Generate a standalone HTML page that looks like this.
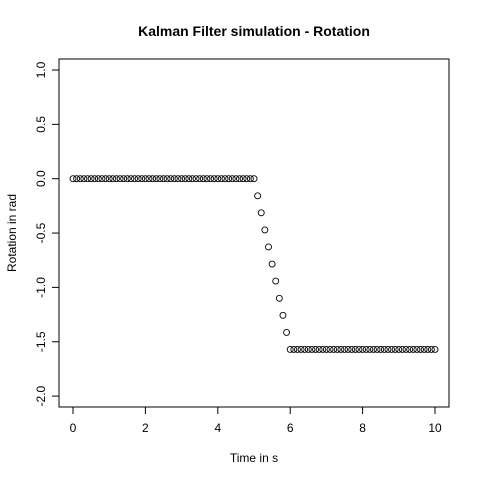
<!DOCTYPE html>
<html><head><meta charset="utf-8"><style>
html,body{margin:0;padding:0;background:#fff;}
svg{display:block;font-family:"Liberation Sans",Arial,sans-serif;}
</style></head><body>
<svg id="chart" width="480" height="480" viewBox="0 0 480 480">
<rect x="0" y="0" width="480" height="480" fill="#fff"/>
<text x="254" y="36" text-anchor="middle" font-size="14" font-weight="bold">Kalman Filter simulation - Rotation</text>
<rect x="59" y="59" width="390" height="348" fill="none" stroke="#000" stroke-width="1"/>
<text x="254" y="462" text-anchor="middle" font-size="12">Time in s</text>
<text x="0" y="0" transform="translate(16,233) rotate(-90)" text-anchor="middle" font-size="12">Rotation in rad</text>
<g id="axes"></g>
<g id="points"></g>
</svg>
<script>
const xTicks = [0, 2, 4, 6, 8, 10];
const yTicks = [1.0, 0.5, 0.0, -0.5, -1.0, -1.5, -2.0];
const yTickLabels = ["1.0", "0.5", "0.0", "-0.5", "-1.0", "-1.5", "-2.0"];
const times = [0,0.1,0.2,0.3,0.4,0.5,0.6,0.7,0.8,0.9,1,1.1,1.2,1.3,1.4,1.5,1.6,1.7,1.8,1.9,2,2.1,2.2,2.3,2.4,2.5,2.6,2.7,2.8,2.9,3,3.1,3.2,3.3,3.4,3.5,3.6,3.7,3.8,3.9,4,4.1,4.2,4.3,4.4,4.5,4.6,4.7,4.8,4.9,5,5.1,5.2,5.3,5.4,5.5,5.6,5.7,5.8,5.9,6,6.1,6.2,6.3,6.4,6.5,6.6,6.7,6.8,6.9,7,7.1,7.2,7.3,7.4,7.5,7.6,7.7,7.8,7.9,8,8.1,8.2,8.3,8.4,8.5,8.6,8.7,8.8,8.9,9,9.1,9.2,9.3,9.4,9.5,9.6,9.7,9.8,9.9,10];
const rotation = [0,0,0,0,0,0,0,0,0,0,0,0,0,0,0,0,0,0,0,0,0,0,0,0,0,0,0,0,0,0,0,0,0,0,0,0,0,0,0,0,0,0,0,0,0,0,0,0,0,0,0,
-0.157,-0.314,-0.471,-0.628,-0.785,-0.942,-1.1,-1.257,-1.414,-1.5708,
-1.5708,-1.5708,-1.5708,-1.5708,-1.5708,-1.5708,-1.5708,-1.5708,-1.5708,-1.5708,
-1.5708,-1.5708,-1.5708,-1.5708,-1.5708,-1.5708,-1.5708,-1.5708,-1.5708,-1.5708,
-1.5708,-1.5708,-1.5708,-1.5708,-1.5708,-1.5708,-1.5708,-1.5708,-1.5708,-1.5708,
-1.5708,-1.5708,-1.5708,-1.5708,-1.5708,-1.5708,-1.5708,-1.5708,-1.5708,-1.5708];

const NS = "http://www.w3.org/2000/svg";
function xs(v){ return 73 + (v - 0) * (435 - 73) / 10; }
function ys(v){ return 178.7 - v * 108.7; }
function mk(tag, attrs){ const e = document.createElementNS(NS, tag); for (const k in attrs) e.setAttribute(k, attrs[k]); return e; }

const axes = document.getElementById("axes");
axes.appendChild(mk("line", {x1: xs(0), x2: xs(10), y1: 407, y2: 407, stroke: "#000"}));
xTicks.forEach(t => {
  const l = mk("line", {x1: xs(t), x2: xs(t), y1: 407, y2: 414, stroke: "#000"});
  
  
  axes.appendChild(l);
  const tx = mk("text", {x: xs(t), y: 432, "text-anchor": "middle", "font-size": "12"});
  tx.textContent = String(t);
  
  
  axes.appendChild(tx);
});
axes.appendChild(mk("line", {x1: 59, x2: 59, y1: ys(1), y2: ys(-2), stroke: "#000"}));
yTicks.forEach((t, i) => {
  const l = mk("line", {x1: 52, x2: 59, y1: ys(t), y2: ys(t), stroke: "#000"});
  
  
  axes.appendChild(l);
  const tx = mk("text", {x: 0, y: 0, transform: "translate(45," + ys(t) + ") rotate(-90)", "text-anchor": "middle", "font-size": "12"});
  tx.textContent = yTickLabels[i];
  
  
  axes.appendChild(tx);
});

const pts = document.getElementById("points");
times.forEach((t, i) => {
  const c = mk("circle", {cx: xs(t), cy: ys(rotation[i]), r: 3, fill: "none", stroke: "#000", "stroke-width": "0.9"});
  
  
  pts.appendChild(c);
});
</script>
</body></html>
